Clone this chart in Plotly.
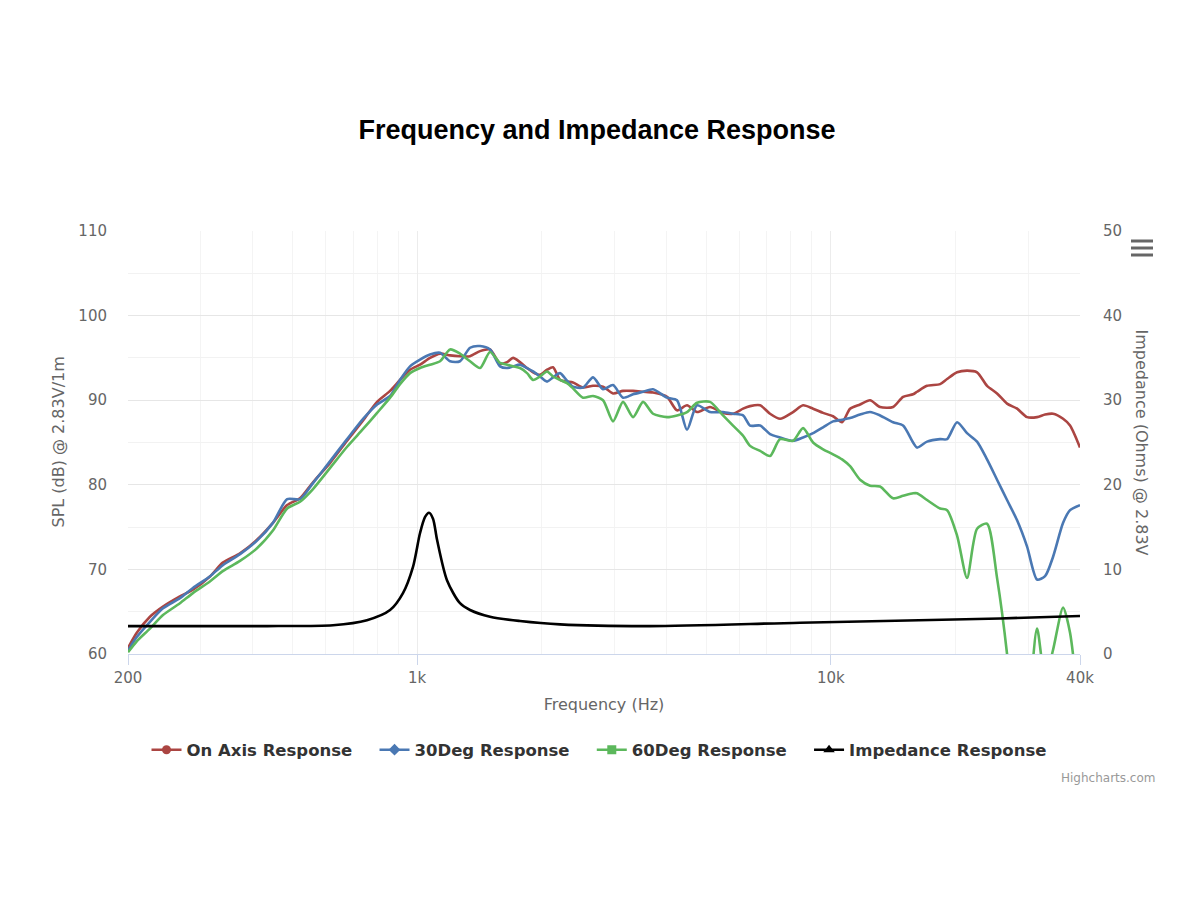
import plotly.graph_objects as go

# ---------------- data ----------------
freq_hz = [200, 210, 226, 243, 267, 287, 316, 339, 373, 410, 448, 485, 521, 560, 616, 677,
           740, 800, 860, 909, 961, 1016, 1074, 1136, 1201, 1269, 1342, 1419, 1500, 1586,
           1649, 1705, 1772, 1843, 1906, 1981, 2060, 2130, 2214, 2302, 2380, 2517, 2661,
           2813, 2974, 3144, 3325, 3515, 3716, 4017, 4246, 4490, 4747, 5102, 5485, 5800,
           6133, 6376, 6742, 7126, 7534, 8100, 8564, 9055, 9573, 10120, 10641, 11125,
           11762, 12436, 13147, 14135, 14942, 15797, 16153, 17076, 18361, 19089, 20180,
           21333, 22554, 23844, 25208, 26653, 28184, 29796, 31498, 32935, 34436, 36410,
           37846, 40000]

on_axis_db = [60.7, 62.5, 64.4, 65.6, 66.8, 67.6, 69.2, 70.8, 71.9, 73.5, 75.5, 77.6, 78.4,
              80.3, 82.6, 85.2, 87.6, 89.8, 91.1, 92.4, 93.6, 94.2, 95.0, 95.5, 95.3, 95.2,
              95.2, 95.8, 96.0, 94.3, 94.5, 95.0, 94.5, 93.8, 93.3, 93.0, 93.6, 93.9, 92.4,
              92.2, 92.1, 91.5, 91.7, 91.6, 90.8, 91.1, 91.1, 91.0, 90.9, 90.4, 88.8, 89.4,
              88.6, 89.2, 88.5, 88.4, 89.0, 89.3, 89.4, 88.4, 87.8, 88.6, 89.4, 89.0, 88.5,
              88.1, 87.4, 89.0, 89.5, 90.0, 89.2, 89.2, 90.4, 90.7, 91.0, 91.7, 91.9, 92.5,
              93.3, 93.5, 93.3, 91.7, 90.8, 89.6, 89.0, 88.0, 88.0, 88.3, 88.4, 87.8, 87.0,
              84.4]

deg30_db = [60.4, 62.0, 63.8, 65.4, 66.6, 67.8, 69.2, 70.5, 71.8, 73.4, 75.5, 78.3, 78.3,
            80.2, 82.8, 85.4, 87.8, 89.5, 90.5, 92.4, 94.0, 94.8, 95.4, 95.6, 94.6, 94.6,
            96.2, 96.4, 96.0, 94.0, 93.8, 94.0, 94.2, 93.8, 93.4, 92.8, 92.2, 92.7, 93.2,
            92.3, 91.6, 91.5, 92.7, 91.3, 91.8, 90.3, 90.7, 91.0, 91.3, 90.3, 90.0, 86.5,
            89.4, 88.6, 88.6, 88.4, 88.2, 87.0, 87.0, 86.0, 85.6, 85.2, 85.6, 86.1, 86.8,
            87.5, 87.7, 87.9, 88.3, 88.6, 88.2, 87.4, 87.0, 85.0, 84.4, 85.1, 85.4, 85.4,
            87.4, 86.1, 85.1, 83.0, 80.6, 78.2, 75.8, 72.7, 68.8, 69.2, 71.5, 75.5, 77.0,
            77.6]

deg60_db = [60.2, 61.5, 63.0, 64.6, 66.0, 67.2, 68.6, 69.8, 71.0, 72.5, 74.6, 77.2, 78.0,
            79.5, 82.0, 84.5, 86.6, 88.5, 90.3, 91.9, 93.2, 93.8, 94.2, 94.6, 96.0, 95.5,
            94.6, 93.8, 95.7, 94.4, 94.2, 94.0, 93.8, 93.2, 92.4, 92.8, 93.4, 92.8, 92.4,
            92.0, 91.4, 90.3, 90.5, 90.0, 87.5, 89.8, 88.0, 89.8, 88.4, 88.0, 88.2, 88.6,
            89.7, 89.8, 88.2, 87.0, 85.8, 84.6, 84.0, 83.4, 85.4, 85.2, 86.7, 85.0, 84.2,
            83.6, 83.0, 82.2, 80.6, 79.9, 79.8, 78.4, 78.7, 79.0, 79.0, 78.2, 77.2, 77.0,
            74.0, 69.0, 74.8, 75.4, 69.0, 60.0, 47.0, 52.0, 63.0, 57.0, 60.5, 65.5, 62.5,
            52.0]

imp_freq_hz = [200, 434, 626, 756, 860, 924, 977, 1016, 1045, 1068, 1092, 1117, 1181, 1269,
               1342, 1500, 1772, 2214, 3655, 8422, 25640, 40000]
imp_ohm = [3.3, 3.3, 3.4, 4.0, 5.2, 7.2, 10.3, 14.3, 16.2, 16.7, 16.0, 13.5, 8.7, 6.0,
           5.2, 4.4, 3.9, 3.5, 3.3, 3.7, 4.2, 4.5]

x_tick_vals = [200, 1000, 10000, 40000]
x_tick_text = ["200", "1k", "10k", "40k"]
x_minor_vals = [300, 400, 500, 600, 700, 800, 900, 2000, 3000, 4000, 5000, 6000, 7000,
                8000, 9000, 20000, 30000]

series = [
    ("On Axis Response", on_axis_db, "#ab4542", "circle"),
    ("30Deg Response", deg30_db, "#4a78b3", "diamond"),
    ("60Deg Response", deg60_db, "#5cb85c", "square"),
]

# ---------------- figure ----------------
# the page body has an 8px margin, so the figure is laid out 8px up/left of screen coords
OFF = 8
PLOT_L, PLOT_R, PLOT_T, PLOT_B = 128 - OFF, 1080 - OFF, 231 - OFF, 654 - OFF
PW, PH = PLOT_R - PLOT_L, PLOT_B - PLOT_T
GAP = "\u00a0\u00a0\u00a0"  # spacing between legend entries

fig = go.Figure()

for name, vals, color, sym in series:
    fig.add_trace(go.Scatter(
        x=freq_hz, y=vals, mode="lines", name=name, legendgroup=name,
        showlegend=False, line=dict(color=color, width=2.6, shape="spline", smoothing=0.7),
        hoverinfo="x+y+name"))
    fig.add_trace(go.Scatter(
        x=[None], y=[None], mode="lines+markers", name=name + GAP, legendgroup=name,
        line=dict(color=color, width=2.6), marker=dict(symbol=sym, size=9, color=color)))

fig.add_trace(go.Scatter(
    x=imp_freq_hz, y=imp_ohm, mode="lines", name="Impedance Response",
    legendgroup="imp", showlegend=False, yaxis="y2",
    line=dict(color="#000000", width=2.6, shape="spline", smoothing=0.8)))
fig.add_trace(go.Scatter(
    x=[None], y=[None], mode="lines+markers", name="Impedance Response",
    legendgroup="imp", yaxis="y2",
    line=dict(color="#000000", width=2.6),
    marker=dict(symbol="triangle-up", size=10, color="#000000")))

tick_font = dict(family="DejaVu Sans, sans-serif", size=15, color="#666666")
title_font = dict(family="DejaVu Sans, sans-serif", size=16, color="#666666")


def px(x):
    return (x - OFF - PLOT_L) / PW


def py(y):
    return (PLOT_B - (y - OFF)) / PH


fig.update_layout(
    width=1200, height=900,
    paper_bgcolor="white", plot_bgcolor="white",
    margin=dict(l=PLOT_L, r=1200 - PLOT_R, t=PLOT_T, b=900 - PLOT_B),
    title=dict(text="<b>Frequency and Impedance Response</b>", x=(597 - OFF) / 1200,
               xanchor="center", y=1 - (130 - OFF) / 900, yanchor="middle",
               font=dict(family="Liberation Sans, Arial, sans-serif", size=27, color="#000000")),
    xaxis=dict(
        type="log", range=[2.30103, 4.60206],
        tickmode="array", tickvals=x_tick_vals, ticktext=x_tick_text,
        showgrid=True, gridcolor="#ececec", gridwidth=1,
        minor=dict(tickmode="array", tickvals=x_minor_vals, showgrid=True,
                   gridcolor="#f4f4f4", gridwidth=1, ticks=""),
        showline=True, linecolor="#ccd6eb", linewidth=1,
        ticks="outside", ticklen=10, tickcolor="#ccd6eb", tickwidth=1,
        tickfont=tick_font, zeroline=False,
        title=dict(text="Frequency (Hz)", standoff=12, font=title_font),
    ),
    yaxis=dict(
        range=[60, 110], tickmode="linear", tick0=60, dtick=10,
        showgrid=True, gridcolor="#e6e6e6", gridwidth=1,
        minor=dict(dtick=5, showgrid=True, gridcolor="#f2f2f2", gridwidth=1, ticks=""),
        ticks="", ticklabelstandoff=20, tickfont=tick_font, zeroline=False, showline=False,
    ),
    yaxis2=dict(
        range=[0, 50], tickmode="linear", tick0=0, dtick=10, overlaying="y", side="right",
        showgrid=False, ticks="", ticklabelstandoff=22, tickfont=tick_font,
        zeroline=False, showline=False,
    ),
    legend=dict(
        orientation="h", x=px(599), xanchor="center", y=py(750), yanchor="middle",
        font=dict(family="DejaVu Sans, sans-serif", size=16.5, color="#333333", weight="bold"),
        itemwidth=30, bgcolor="rgba(0,0,0,0)",
    ),
    showlegend=True,
    annotations=[
        dict(text="SPL (dB) @ 2.83V/1m", xref="paper", yref="paper",
             x=px(58), y=0.5, xanchor="center", yanchor="middle",
             textangle=-90, showarrow=False, font=title_font),
        dict(text="Impedance (Ohms) @ 2.83V", xref="paper", yref="paper",
             x=px(1141), y=0.5, xanchor="center", yanchor="middle",
             textangle=90, showarrow=False, font=title_font),
        dict(text="Highcharts.com", xref="paper", yref="paper",
             x=px(1157), y=py(778), xanchor="right", yanchor="middle",
             showarrow=False,
             font=dict(family="DejaVu Sans, sans-serif", size=12, color="#999999")),
    ],
    shapes=[
        dict(type="line", xref="paper", yref="paper",
             x0=px(1131), x1=px(1153), y0=py(yy), y1=py(yy),
             line=dict(color="#666666", width=3))
        for yy in (241, 248, 255)
    ],
)

fig.write_html("out.html")
